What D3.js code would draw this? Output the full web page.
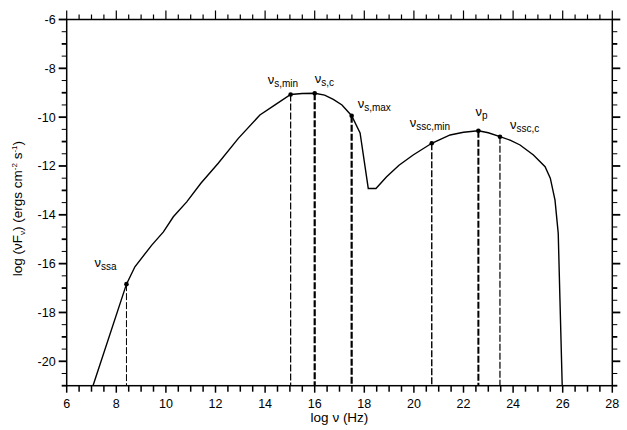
<!DOCTYPE html>
<html lang="en">
<head>
<meta charset="UTF-8">
<title>SED</title>
<style>
  body { margin: 0; background: #fff; }
  svg text { font-family: "Liberation Sans", Arial, sans-serif; fill: #000; }
</style>
</head>
<body>
<svg id="chart"></svg>
<script src="https://d3js.org/d3.v7.min.js"></script>
<script>
// SED curve: log nu vs log(nu F_nu)
var logNu = [7.06, 8.41, 8.75, 9.43, 9.9, 10.3, 10.84, 11.41, 12.11, 12.92, 13.79, 14.4, 15.03, 15.5, 16.0,
             16.4, 16.75, 17.1, 17.49, 17.83, 18.16, 18.47, 18.9, 19.4, 19.97, 20.72, 21.46, 22.0, 22.6, 23.0, 23.47,
             23.9, 24.28, 24.82, 25.29, 25.5, 25.69, 25.82, 25.89, 25.98];
var logFlux = [-21.0, -16.84, -16.13, -15.24, -14.7, -14.08, -13.47, -12.71, -11.89, -10.87, -9.91, -9.5, -9.07, -9.03, -9.02,
               -9.1, -9.27, -9.5, -9.94, -10.65, -12.92, -12.92, -12.44, -11.97, -11.55, -11.07, -10.73, -10.62, -10.56, -10.64, -10.8,
               -10.95, -11.14, -11.55, -12.03, -12.5, -13.4, -14.76, -17.5, -21.0];

// marked frequencies
var markNames = ["ssa", "s,min", "s,c", "s,max", "ssc,min", "p", "ssc,c"];
var markNu = [8.41, 15.03, 16.0, 17.49, 20.72, 22.6, 23.47];
var markFlux = [-16.84, -9.07, -9.02, -9.94, -11.07, -10.56, -10.8];

var xTicks = [6, 8, 10, 12, 14, 16, 18, 20, 22, 24, 26, 28];
var yTicks = [-6, -8, -10, -12, -14, -16, -18, -20];

var W = 627, H = 430;
var margin = { top: 19.5, right: 14.7, bottom: 44.3, left: 66.7 };
var svg = d3.select("#chart").attr("width", W).attr("height", H);

var x = d3.scaleLinear().domain([6, 28]).range([margin.left, W - margin.right]);
var y = d3.scaleLinear().domain([-21, -6]).range([H - margin.bottom, margin.top]);

var minorX = d3.range(6, 28.01, 0.5);
var minorY = d3.range(-21, -5.99, 0.5);

// frame
svg.append("rect")
  .attr("x", x(6)).attr("y", y(-6))
  .attr("width", x(28) - x(6)).attr("height", y(-21) - y(-6))
  .attr("fill", "none").attr("stroke", "#000").attr("stroke-width", 1.5);

// bottom ticks
svg.append("g").selectAll("line").data(minorX).enter().append("line")
  .attr("x1", d => x(d)).attr("x2", d => x(d))
  .attr("y1", y(-21)).attr("y2", d => y(-21) + (d % 2 === 0 ? 7 : 6))
  .attr("stroke", "#000").attr("stroke-width", 1.5);
// top ticks
svg.append("g").selectAll("line").data(minorX).enter().append("line")
  .attr("x1", d => x(d)).attr("x2", d => x(d))
  .attr("y1", y(-6)).attr("y2", d => y(-6) - (d % 2 === 0 ? 9 : 5))
  .attr("stroke", "#000").attr("stroke-width", 1.2);
// left ticks
svg.append("g").selectAll("line").data(minorY).enter().append("line")
  .attr("y1", d => y(d)).attr("y2", d => y(d))
  .attr("x1", x(6)).attr("x2", d => x(6) - (d % 2 === 0 ? 8 : 5))
  .attr("stroke", "#000").attr("stroke-width", d => (d % 1 === 0 ? 1.8 : 1));
// right ticks
svg.append("g").selectAll("line").data(minorY).enter().append("line")
  .attr("y1", d => y(d)).attr("y2", d => y(d))
  .attr("x1", x(28)).attr("x2", d => x(28) + (d % 2 === 0 ? 8 : 5))
  .attr("stroke", "#000").attr("stroke-width", d => (d % 1 === 0 ? 1.8 : 1));

// tick labels
svg.append("g").selectAll("text").data(xTicks).enter().append("text")
  .attr("x", d => x(d)).attr("y", y(-21) + 22)
  .attr("text-anchor", "middle").attr("font-size", 12.5)
  .text(d => d);
svg.append("g").selectAll("text").data(yTicks).enter().append("text")
  .attr("x", x(6) - 11).attr("y", d => y(d) + 4.5)
  .attr("text-anchor", "end").attr("font-size", 12.5)
  .text(d => "-" + Math.abs(d));

// axis titles
svg.append("text")
  .attr("x", (x(6) + x(28)) / 2).attr("y", H - 8)
  .attr("text-anchor", "middle").attr("font-size", 13.5)
  .text("log \u03bd (Hz)");

var yt = svg.append("text")
  .attr("transform", "translate(22," + ((y(-6) + y(-21)) / 2 + 6) + ") rotate(-90)")
  .attr("text-anchor", "middle").attr("font-size", 13.5);
yt.append("tspan").text("log (\u03bdF");
yt.append("tspan").attr("font-size", 8).attr("dy", 3).text("\u03bd");
yt.append("tspan").attr("dy", -3).text(") (ergs cm");
yt.append("tspan").attr("font-size", 8).attr("dy", -5).text("-2");
yt.append("tspan").attr("dy", 5).text(" s");
yt.append("tspan").attr("font-size", 8).attr("dy", -5).text("-1");
yt.append("tspan").attr("dy", 5).text(")");

// vertical drop lines
var dropWidth = [1, 1.2, 2.2, 2.2, 1.4, 2, 1.2];
svg.append("g").selectAll("line").data(markNu).enter().append("line")
  .attr("x1", d => x(d)).attr("x2", d => x(d))
  .attr("y1", (d, i) => y(markFlux[i])).attr("y2", y(-21))
  .attr("stroke", "#000").attr("stroke-width", (d, i) => dropWidth[i])
  .attr("stroke-dasharray", "7,2");

// SED curve
var line = d3.line().x(d => x(d[0])).y(d => y(d[1]));
svg.append("path")
  .datum(d3.zip(logNu, logFlux))
  .attr("d", line)
  .attr("fill", "none").attr("stroke", "#000").attr("stroke-width", 1.4);

// marker dots
svg.append("g").selectAll("circle").data(markNu).enter().append("circle")
  .attr("cx", d => x(d)).attr("cy", (d, i) => y(markFlux[i]))
  .attr("r", 2.3).attr("fill", "#000");

// labels
var labelDx = [-32, -23, 0, 6, -22, -3, 10];
var labelDy = [-17, -10, -10, -8, -16, -15, -8];
var lab = svg.append("g").selectAll("text").data(markNames).enter().append("text")
  .attr("x", (d, i) => x(markNu[i]) + labelDx[i])
  .attr("y", (d, i) => y(markFlux[i]) + labelDy[i])
  .attr("font-size", 13);
lab.append("tspan").text("\u03bd");
lab.append("tspan").attr("font-size", 10).attr("dy", 3).text(d => d);
</script>
</body>
</html>
